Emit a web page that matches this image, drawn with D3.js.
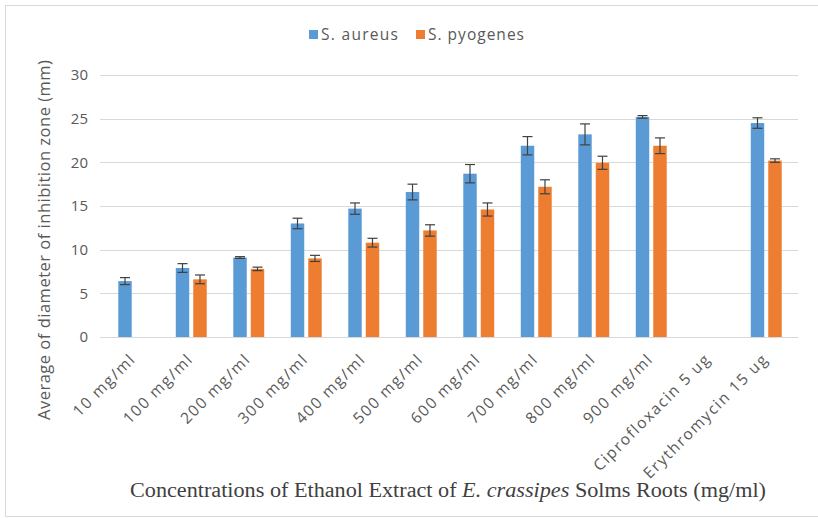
<!DOCTYPE html>
<html><head><meta charset="utf-8">
<script src="https://cdn.jsdelivr.net/npm/d3@7"></script>
<style>body{margin:0;background:#fff}svg{display:block}</style>
</head><body>
<svg id="c" width="818" height="518"></svg>
<script>
const categories = ["10 mg/ml","100 mg/ml","200 mg/ml","300 mg/ml","400 mg/ml","500 mg/ml","600 mg/ml","700 mg/ml","800 mg/ml","900 mg/ml","Ciprofloxacin 5 ug","Erythromycin 15 ug"];
const seriesNames = ["S. aureus","S. pyogenes"];
const aureus = [6.4, 7.9, 9.1, 13.0, 14.7, 16.6, 18.7, 21.9, 23.2, 25.2, null, 24.5];
const aureusErr = [0.4, 0.5, 0.1, 0.6, 0.65, 0.9, 1.05, 1.05, 1.2, 0.15, null, 0.6];
const pyogenes = [null, 6.6, 7.8, 9.0, 10.8, 12.2, 14.6, 17.2, 19.95, 21.9, null, 20.2];
const pyogenesErr = [null, 0.5, 0.2, 0.35, 0.5, 0.65, 0.75, 0.8, 0.75, 0.9, null, 0.2];
const yTicks = [0,5,10,15,20,25,30];
const colors = ["#5B9BD5","#ED7D31"];

const svg = d3.select("#c");
svg.append("rect").attr("x",5.5).attr("y",5.5).attr("width",830).attr("height",511)
  .attr("fill","none").attr("stroke","#d9d9d9");

const L=100, R=798, T=75, B=337;
const x = d3.scaleBand().domain(categories).range([L+5,R-3]).paddingInner(0).paddingOuter(0);
const y = d3.scaleLinear().domain([0,30]).range([B,T]);
const inner = d3.scaleBand().domain(seriesNames).range([0,x.bandwidth()]).paddingInner(0.23).paddingOuter(0.76);

svg.append("g").selectAll("line").data(yTicks).join("line")
  .attr("x1",L).attr("x2",R).attr("y1",d=>Math.round(y(d))+0.5).attr("y2",d=>Math.round(y(d))+0.5)
  .attr("stroke","#d9d9d9").attr("stroke-width",1);

const yAxis = d3.axisLeft(y).tickValues(yTicks).tickSize(0).tickPadding(12);
const yg = svg.append("g").attr("transform",`translate(${L},0)`).call(yAxis);
yg.select(".domain").remove();
yg.selectAll("text").attr("font-family","'Open Sans', sans-serif").attr("font-size",15).attr("fill","#595959");

const data = [];
categories.forEach((c,i)=>{
  [[aureus,aureusErr],[pyogenes,pyogenesErr]].forEach(([v,e],s)=>{
    if (v[i]!=null) data.push({c, s:seriesNames[s], v:v[i], e:e[i], col:colors[s]});
  });
});

svg.append("g").selectAll("rect").data(data).join("rect")
  .attr("x",d=>x(d.c)+inner(d.s)).attr("width",inner.bandwidth())
  .attr("y",d=>y(d.v)).attr("height",d=>y(0)-y(d.v)).attr("fill",d=>d.col);

const eg = svg.append("g").attr("stroke","#404040").attr("stroke-width",1.2);
data.forEach(d=>{
  const cx = x(d.c)+inner(d.s)+inner.bandwidth()/2;
  eg.append("line").attr("x1",cx).attr("x2",cx).attr("y1",y(d.v+d.e)).attr("y2",y(d.v-d.e));
  eg.append("line").attr("x1",cx-5).attr("x2",cx+5).attr("y1",y(d.v+d.e)).attr("y2",y(d.v+d.e));
  eg.append("line").attr("x1",cx-5).attr("x2",cx+5).attr("y1",y(d.v-d.e)).attr("y2",y(d.v-d.e));
});

const xAxis = d3.axisBottom(x).tickSize(0).tickPadding(0);
const xg = svg.append("g").attr("transform",`translate(0,${B})`).call(xAxis);
xg.select(".domain").remove();
xg.selectAll("text").attr("font-family","'Open Sans', sans-serif").attr("font-size",15.5).attr("fill","#595959")
  .attr("letter-spacing",1.6)
  .attr("text-anchor","end").attr("dy",0)
  .attr("transform","translate(3,23) rotate(-45)");

svg.append("text").attr("transform",`translate(50,240) rotate(-90)`)
  .attr("text-anchor","middle").attr("font-family","'Open Sans', sans-serif").attr("font-size",16.5)
  .attr("fill","#595959").attr("textLength",360).attr("lengthAdjust","spacing")
  .text("Average of diameter of inhibition zone (mm)");

const xt = svg.append("text").attr("x",448).attr("y",497).attr("text-anchor","middle")
  .attr("font-family","'Liberation Serif', 'Times New Roman', serif").attr("font-size",20).attr("fill","#404040")
  .attr("textLength",636).attr("lengthAdjust","spacingAndGlyphs");
xt.append("tspan").text("Concentrations of Ethanol Extract of ");
xt.append("tspan").attr("font-style","italic").text("E. crassipes");
xt.append("tspan").text(" Solms Roots (mg/ml)");

const leg = svg.append("g");
const lx = [309, 416];
const lw = [77, 96];
seriesNames.forEach((n,i)=>{
  leg.append("rect").attr("x",lx[i]).attr("y",30).attr("width",9).attr("height",9).attr("fill",colors[i]);
  leg.append("text").attr("x",lx[i]+12).attr("y",40).attr("font-family","'Open Sans', sans-serif")
    .attr("font-size",15.5).attr("fill","#595959").attr("textLength",lw[i]).attr("lengthAdjust","spacing").text(n);
});
</script>
</body></html>
